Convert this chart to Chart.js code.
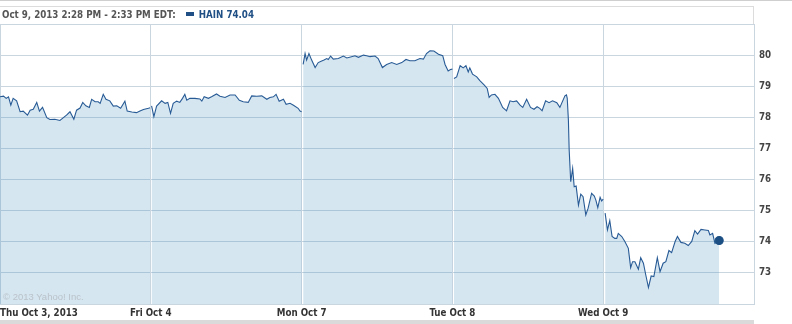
<!DOCTYPE html>
<html>
<head>
<meta charset="utf-8">
<script src="https://cdn.jsdelivr.net/npm/chart.js@4/dist/chart.umd.min.js"></script>
<style>
  html, body { margin: 0; padding: 0; background: #fff; }
  #wrap { position: relative; width: 792px; height: 324px; overflow: hidden; }
  #topline { position: absolute; left: 0; top: 0; width: 792px; height: 1px; background: #cfcfcf; }
  #headbox { position: absolute; left: 0; top: 6px; width: 753px; height: 18px; border-top: 1px solid #dcdcdc; border-right: 1px solid #dcdcdc; }
  #head { position: absolute; left: 2px; top: 9px; font: bold 9.7px "DejaVu Sans Condensed", "DejaVu Sans", sans-serif; color: #555; white-space: nowrap; }
  #head .sym { color: #1f4f85; }
  #head .mk { display: inline-block; width: 8px; height: 4px; background: #1f4f85; margin: 0 5px 2px 10px; vertical-align: middle; }
  #band { position: absolute; left: 0; top: 320px; width: 754px; height: 4px; background: #dadada; }
  #copy { position: absolute; left: 3px; top: 291px; font: 9.5px "Liberation Sans", Arial, sans-serif; color: #b9c2c9; }
  canvas { position: absolute; left: 0; top: 0; }
</style>
</head>
<body>
<div id="wrap">
  <div id="topline"></div>
  <div id="headbox"></div>
  <canvas id="c" width="792" height="324"></canvas>
  <div id="head">Oct 9, 2013 2:28 PM - 2:33 PM EDT:<span class="mk"></span><span class="sym">HAIN 74.04</span></div>
  <div id="copy">© 2013 Yahoo! Inc.</div>
  <div id="band"></div>
</div>
<script>
// ---- Data (trading minutes since Thu Oct 3 open; 390 minutes per session) ----
const dayLabels = ["Thu Oct 3, 2013", "Fri Oct 4", "Mon Oct 7", "Tue Oct 8", "Wed Oct 9", ""];
const dayStarts = [0, 390, 780, 1170, 1560, 1950];
const yTicks = [72, 73, 74, 75, 76, 77, 78, 79, 80, 81];

const thuTimes = [0, 9, 16, 22, 28, 34, 43, 52, 60, 71, 78, 86, 95, 102, 110, 121, 129, 142, 155, 164, 172, 181, 191, 198, 207, 214, 222, 231, 237, 246, 254, 259, 267, 274, 284, 293, 302, 312, 323, 329, 341, 353, 362, 371, 384, 388];
const thuPrices = [78.66, 78.68, 78.61, 78.66, 78.39, 78.61, 78.53, 78.18, 78.20, 78.07, 78.23, 78.26, 78.48, 78.20, 78.32, 77.99, 77.93, 77.94, 77.90, 77.99, 78.07, 78.18, 77.94, 78.23, 78.30, 78.48, 78.37, 78.32, 78.58, 78.50, 78.50, 78.45, 78.74, 78.58, 78.53, 78.36, 78.37, 78.29, 78.52, 78.20, 78.17, 78.15, 78.20, 78.25, 78.29, 78.31];

const friTimes = [392, 398, 405, 418, 427, 434, 441, 448, 457, 465, 472, 478, 483, 491, 504, 517, 522, 528, 539, 547, 560, 569, 582, 595, 608, 619, 629, 642, 651, 664, 677, 690, 698, 707, 714, 722, 733, 740, 750, 759, 771, 776, 780];
const friPrices = [78.37, 78.02, 78.36, 78.53, 78.45, 78.48, 78.13, 78.45, 78.52, 78.48, 78.61, 78.74, 78.55, 78.61, 78.61, 78.59, 78.52, 78.66, 78.61, 78.66, 78.75, 78.68, 78.64, 78.72, 78.72, 78.55, 78.50, 78.48, 78.69, 78.68, 78.69, 78.58, 78.64, 78.66, 78.74, 78.52, 78.58, 78.42, 78.45, 78.39, 78.29, 78.20, 78.18];

const monTimes = [784, 789, 793, 799, 806, 815, 823, 832, 838, 845, 849, 855, 862, 875, 888, 897, 909, 918, 927, 940, 948, 957, 970, 978, 989, 1000, 1013, 1026, 1039, 1050, 1060, 1073, 1086, 1095, 1103, 1112, 1122, 1134, 1145, 1151, 1159, 1165, 1170];
const monPrices = [79.70, 80.05, 79.84, 80.05, 79.84, 79.60, 79.76, 79.81, 79.84, 79.89, 79.86, 79.97, 79.87, 79.89, 79.97, 79.91, 79.95, 79.98, 79.93, 80.00, 79.98, 79.95, 79.97, 79.89, 79.60, 79.70, 79.76, 79.70, 79.76, 79.86, 79.82, 79.82, 79.89, 79.87, 80.05, 80.14, 80.13, 80.03, 79.98, 79.70, 79.49, 79.54, 79.55];

const tueTimes = [1174, 1181, 1190, 1198, 1205, 1211, 1215, 1222, 1233, 1241, 1252, 1260, 1265, 1271, 1280, 1289, 1300, 1310, 1319, 1327, 1336, 1345, 1352, 1362, 1372, 1381, 1389, 1396, 1402, 1411, 1420, 1429, 1440, 1448, 1461, 1465, 1467, 1470, 1472, 1476, 1481, 1485, 1490, 1496, 1502, 1508, 1515, 1521, 1530, 1537, 1541, 1546, 1552, 1556, 1560];
const tuePrices = [79.25, 79.30, 79.66, 79.59, 79.66, 79.46, 79.59, 79.39, 79.30, 79.18, 79.04, 78.93, 78.64, 78.72, 78.74, 78.61, 78.32, 78.21, 78.53, 78.50, 78.53, 78.39, 78.32, 78.58, 78.32, 78.26, 78.34, 78.29, 78.21, 78.53, 78.47, 78.53, 78.47, 78.32, 78.69, 78.72, 78.61, 77.91, 76.95, 75.93, 76.36, 75.77, 75.79, 75.18, 75.53, 75.45, 74.86, 75.08, 75.56, 75.47, 75.34, 75.10, 75.43, 75.31, 75.37];

const wedTimes = [1565, 1571, 1577, 1583, 1590, 1595, 1599, 1608, 1616, 1625, 1631, 1636, 1642, 1651, 1657, 1664, 1670, 1677, 1684, 1691, 1700, 1707, 1715, 1722, 1730, 1737, 1746, 1752, 1761, 1771, 1780, 1789, 1797, 1804, 1813, 1823, 1832, 1836, 1843, 1849, 1853, 1860];
const wedPrices = [74.92, 74.38, 74.68, 74.17, 74.11, 74.11, 74.27, 74.17, 74.01, 73.79, 73.17, 73.36, 73.36, 73.12, 73.49, 73.31, 72.94, 72.53, 72.90, 72.88, 73.49, 73.04, 73.31, 73.36, 73.72, 73.65, 74.01, 74.17, 73.98, 73.95, 73.88, 74.01, 74.36, 74.25, 74.40, 74.38, 74.36, 74.22, 74.27, 73.95, 73.98, 74.04];

// ---- Build the dataset (null between sessions breaks the line and fill) ----
const sessions = [[thuTimes, thuPrices], [friTimes, friPrices], [monTimes, monPrices], [tueTimes, tuePrices], [wedTimes, wedPrices]];
const points = [];
sessions.forEach(([t, p], i) => {
  if (i > 0) {
    const prev = sessions[i - 1][0];
    points.push({ x: (t[0] + prev[prev.length - 1]) / 2, y: null });
  }
  t.forEach((x, j) => points.push({ x: x, y: p[j] }));
});
const lastIndex = points.length - 1;

const gridColor = "#c9d6e0";
const labelFont = { family: "'DejaVu Sans Condensed', 'DejaVu Sans', sans-serif", size: 9.7, weight: "bold" };

new Chart(document.getElementById("c"), {
  type: "line",
  data: {
    datasets: [{
      data: points,
      borderColor: "#285b95",
      borderWidth: 1.1,
      backgroundColor: "rgba(70,140,190,0.22)",
      fill: "start",
      tension: 0,
      spanGaps: false,
      pointRadius: ctx => ctx.dataIndex === lastIndex ? 4 : 0,
      pointBackgroundColor: "#1c4f84",
      pointBorderColor: "#1c4f84",
      pointHoverRadius: 0
    }]
  },
  options: {
    responsive: false,
    animation: false,
    events: [],
    layout: { autoPadding: false, padding: { top: 24, left: 0, right: 0, bottom: 0 } },
    plugins: { legend: { display: false }, tooltip: { enabled: false } },
    scales: {
      x: {
        type: "linear",
        min: dayStarts[0],
        max: dayStarts[dayStarts.length - 1],
        afterBuildTicks: s => { s.ticks = dayStarts.map(v => ({ value: v })); },
        afterFit: s => { s.height = 20; s.paddingLeft = 0; s.paddingRight = 0; },
        grid: { color: gridColor, drawTicks: false, lineWidth: 1 },
        border: { display: false },
        ticks: {
          align: "inner",
          padding: 4,
          maxRotation: 0,
          autoSkip: false,
          color: "#333",
          font: labelFont,
          callback: (v) => dayLabels[dayStarts.indexOf(v)]
        }
      },
      y: {
        position: "right",
        min: yTicks[0],
        max: yTicks[yTicks.length - 1],
        afterBuildTicks: s => { s.ticks = yTicks.map(v => ({ value: v })); },
        afterFit: s => { s.width = 38; s.paddingTop = 0; s.paddingBottom = 0; },
        grid: { color: gridColor, drawTicks: false, lineWidth: 1 },
        border: { display: true, color: gridColor },
        ticks: {
          padding: 5,
          color: "#444",
          font: labelFont,
          callback: v => (v === yTicks[0] || v === yTicks[yTicks.length - 1]) ? "" : String(v)
        }
      }
    }
  }
});
</script>
</body>
</html>
